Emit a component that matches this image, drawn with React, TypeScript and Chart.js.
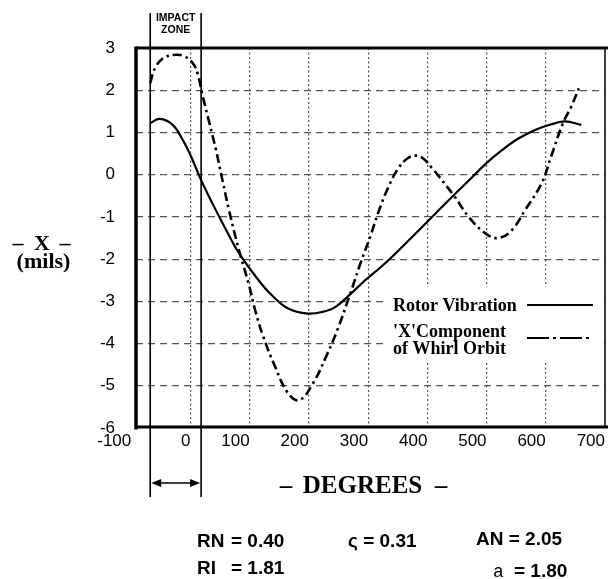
import React, { useEffect, useRef } from 'react';
import { Chart, registerables } from 'chart.js';

Chart.register(...registerables);

// Rotor vibration (solid curve): degrees and X (mils)
const rotorDeg = [-68, -52, -30, -13, 1, 18, 37, 58, 82, 115, 137, 165, 198, 223, 245, 270, 295, 323, 351, 384, 415, 445, 470, 498, 526, 553, 582, 604, 632, 660];
const rotorX = [1.22, 1.32, 1.18, 0.82, 0.43, -0.13, -0.68, -1.25, -1.86, -2.5, -2.85, -3.17, -3.29, -3.25, -3.13, -2.83, -2.5, -2.17, -1.8, -1.34, -0.9, -0.48, -0.14, 0.25, 0.58, 0.85, 1.06, 1.17, 1.26, 1.18];

// 'X' component of whirl orbit (dash-dot curve)
const whirlDeg = [-68, -60, -46, -24, -10, 4, 12, 20, 32, 43, 54, 65, 76, 84, 98, 109, 123, 143, 165, 184, 207, 229, 248, 270, 287, 304, 317, 334, 351, 368, 382, 395, 407, 420, 445, 470, 498, 520, 543, 565, 593, 609, 629, 643, 657];
const whirlX = [2.17, 2.52, 2.76, 2.84, 2.8, 2.64, 2.4, 1.9, 1.22, 0.59, -0.13, -0.84, -1.47, -1.9, -2.57, -3.2, -3.84, -4.55, -5.18, -5.34, -4.94, -4.31, -3.68, -2.81, -2.1, -1.45, -0.9, -0.3, 0.15, 0.4, 0.45, 0.36, 0.17, -0.05, -0.5, -1.0, -1.39, -1.5, -1.31, -0.84, -0.2, 0.43, 1.22, 1.61, 2.09];

const xTickValues = [-100, 0, 100, 200, 300, 400, 500, 600, 700];
const xAxisStart = -92;
const xAxisEnd = 700;
const yAxisMin = -6;
const yAxisMax = 3;
const impactZone = [-68, 18];

const legendLabels = ['Rotor Vibration', "'X'Component", 'of Whirl Orbit'];
const paramRows = [
  ['RN', '= 0.40'],
  ['RI', '= 1.81'],
];
const zetaText = 'ς = 0.31';
const anText = 'AN = 2.05';
const aSymbol = 'a';
const aValue = '= 1.80';

const SERIF = '"Liberation Serif", "Times New Roman", serif';
const SANS = '"Liberation Sans", Arial, Helvetica, sans-serif';
const MONO = '"Liberation Mono", "Courier New", monospace';

const decorPlugin = {
  id: 'decor',
  afterDraw(chart: any) {
    const { ctx, chartArea: ca, scales } = chart;
    const x = scales.x;
    ctx.save();
    const seg = (x0: number, y0: number, x1: number, y1: number) => {
      ctx.beginPath();
      ctx.moveTo(x0, y0);
      ctx.lineTo(x1, y1);
      ctx.stroke();
    };

    // legend box
    ctx.fillStyle = '#fff';
    ctx.fillRect(387, 287, 213, 74);
    ctx.fillStyle = '#000';
    ctx.font = `bold 18px ${SERIF}`;
    ctx.textAlign = 'left';
    ctx.textBaseline = 'alphabetic';
    ctx.fillText(legendLabels[0], 393, 311);
    ctx.fillText(legendLabels[1], 393, 337);
    ctx.fillText(legendLabels[2], 393, 354);
    ctx.strokeStyle = '#000';
    ctx.lineWidth = 2;
    ctx.setLineDash([]);
    seg(527, 305, 593, 305);
    ctx.setLineDash([22, 4, 3, 4]);
    seg(527, 338, 593, 338);
    ctx.setLineDash([]);

    // plot frame
    const left = x.getPixelForValue(xAxisStart);
    ctx.lineWidth = 3.5;
    seg(left, ca.top - 1.5, left, ca.bottom + 1.5);
    ctx.lineWidth = 3;
    seg(left, ca.top, ca.right + 3, ca.top);
    seg(left, ca.bottom - 1, ca.right + 3, ca.bottom - 1);
    ctx.lineWidth = 1.5;
    seg(ca.right, ca.top, ca.right, ca.bottom);

    // impact zone
    const ix0 = x.getPixelForValue(impactZone[0]);
    const ix1 = x.getPixelForValue(impactZone[1]);
    ctx.lineWidth = 1.6;
    seg(ix0, 13, ix0, 497);
    seg(ix1, 13, ix1, 497);
    const ay = 483;
    ctx.lineWidth = 1.5;
    seg(ix0 + 4, ay, ix1 - 4, ay);
    ctx.beginPath();
    ctx.moveTo(ix0 + 1, ay);
    ctx.lineTo(ix0 + 11, ay - 4);
    ctx.lineTo(ix0 + 11, ay + 4);
    ctx.closePath();
    ctx.fill();
    ctx.beginPath();
    ctx.moveTo(ix1 - 1, ay);
    ctx.lineTo(ix1 - 11, ay - 4);
    ctx.lineTo(ix1 - 11, ay + 4);
    ctx.closePath();
    ctx.fill();
    ctx.font = `bold 10.5px ${SANS}`;
    ctx.textAlign = 'center';
    const icx = (ix0 + ix1) / 2;
    ctx.fillText('IMPACT', icx, 21);
    ctx.fillText('ZONE', icx, 33);

    // y-axis title
    ctx.font = `bold 22px ${SERIF}`;
    ctx.fillText('X', 42, 250);
    ctx.fillText('–', 18, 250);
    ctx.fillText('–', 65, 250);
    ctx.fillText('(mils)', 43.5, 268);

    // x-axis title
    ctx.font = `bold 25px ${SERIF}`;
    ctx.fillText('DEGREES', 362.5, 493);
    ctx.fillText('–', 286, 493);
    ctx.fillText('–', 441, 493);

    // parameters
    ctx.textAlign = 'left';
    ctx.font = `bold 19px ${SANS}`;
    ctx.fillText(paramRows[0][0], 197, 547);
    ctx.fillText(paramRows[0][1], 231, 547);
    ctx.fillText(paramRows[1][0], 197, 574);
    ctx.fillText(paramRows[1][1], 231, 574);
    ctx.fillText(zetaText, 348, 547);
    ctx.fillText(anText, 476, 545);
    ctx.fillText(aValue, 514, 577);
    ctx.font = `18px ${MONO}`;
    ctx.fillText(aSymbol, 493, 577);

    ctx.restore();
  },
};

export default function App() {
  const ref = useRef<HTMLCanvasElement | null>(null);

  useEffect(() => {
    if (!ref.current) return;
    const chart = new Chart(ref.current, {
      type: 'line',
      data: {
        datasets: [
          {
            label: 'Rotor Vibration',
            data: rotorDeg.map((d, i) => ({ x: d, y: rotorX[i] })),
            borderColor: '#000',
            borderWidth: 2.2,
            pointRadius: 0,
            fill: false,
            tension: 0.4,
          },
          {
            label: "'X'Component of Whirl Orbit",
            data: whirlDeg.map((d, i) => ({ x: d, y: whirlX[i] })),
            borderColor: '#000',
            borderWidth: 2.6,
            borderDash: [9, 4, 2.5, 4],
            pointRadius: 0,
            fill: false,
            tension: 0.4,
          },
        ],
      },
      options: {
        responsive: false,
        animation: false,
        layout: { padding: { top: 48, right: 3, bottom: 0, left: 0 } },
        plugins: {
          legend: { display: false },
          tooltip: { enabled: false },
        },
        scales: {
          x: {
            type: 'linear',
            min: xAxisStart,
            max: xAxisEnd,
            afterBuildTicks: (s: any) => {
              s.ticks = xTickValues.map((v) => ({ value: v }));
            },
            afterFit: (s: any) => {
              s.height = 151;
            },
            ticks: {
              autoSkip: false,
              maxRotation: 0,
              minRotation: 0,
              align: 'end',
              padding: 3,
              color: '#000',
              font: { family: SANS, size: 17 },
              callback: (v: any) => String(v),
            },
            grid: {
              drawTicks: false,
              lineWidth: 1.2,
              color: (c: any) =>
                c.tick && (c.tick.value <= xAxisStart || c.tick.value >= xAxisEnd)
                  ? 'rgba(0,0,0,0)'
                  : '#555',
            },
            border: { display: false, dash: [2, 2.5] },
          },
          y: {
            type: 'linear',
            min: yAxisMin,
            max: yAxisMax,
            afterFit: (s: any) => {
              s.width = 136;
            },
            ticks: {
              stepSize: 1,
              padding: 21,
              color: '#000',
              font: { family: SANS, size: 17 },
              callback: (v: any) => String(v),
            },
            grid: {
              drawTicks: false,
              lineWidth: 1.2,
              color: (c: any) =>
                c.tick && (c.tick.value <= yAxisMin || c.tick.value >= yAxisMax)
                  ? 'rgba(0,0,0,0)'
                  : '#555',
            },
            border: { display: false, dash: [7, 5] },
          },
        },
      } as any,
      plugins: [decorPlugin],
    });
    return () => chart.destroy();
  }, []);

  return (
    <div style={{ position: 'fixed', left: 0, top: 0, width: 608, height: 579, background: '#fff' }}>
      <canvas ref={ref} width={608} height={579} />
    </div>
  );
}
